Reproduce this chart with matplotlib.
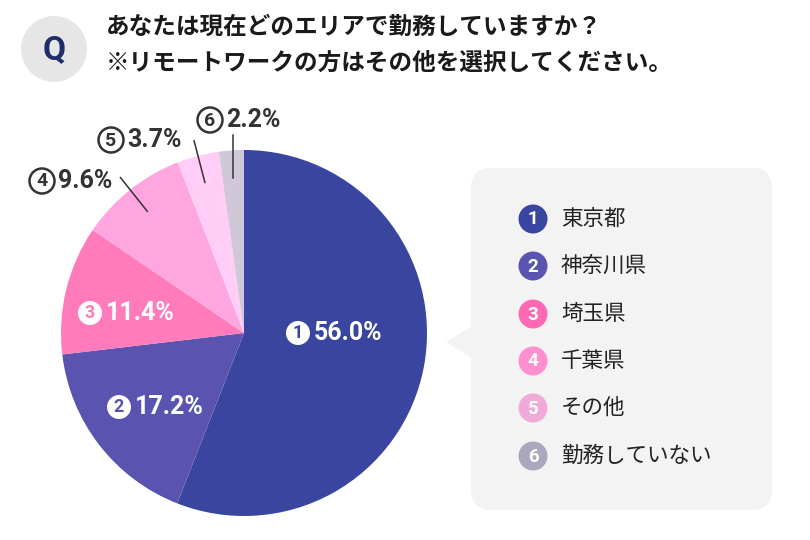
import numpy as np
import matplotlib
matplotlib.use("Agg")
import matplotlib.pyplot as plt
from matplotlib.patches import Circle, FancyBboxPatch, Polygon

plt.rcParams['font.family'] = ['Noto Sans CJK JP', 'DejaVu Sans']

# ---- data ----
categories = ["東京都", "神奈川県", "埼玉県", "千葉県", "その他", "勤務していない"]
values = [56.0, 17.2, 11.4, 9.6, 3.7, 2.2]
numbers = ["1", "2", "3", "4", "5", "6"]
slice_colors = ["#3a45a0", "#5a54b0", "#ff7bbb", "#ffa6e0", "#ffcdf5", "#d0c8d8"]
legend_colors = ["#3a45a0", "#5a54b0", "#ff69b4", "#ff8fcf", "#f0a9d9", "#aba7bd"]
title_lines = ["あなたは現在どのエリアで勤務していますか？",
               "※リモートワークの方はその他を選択してください。"]

W, H = 810, 540
def Y(y):
    return H - y

fig = plt.figure(figsize=(8.1, 5.4), dpi=100)
ax = fig.add_axes([0, 0, 1, 1])

CX, CY, R = 244, 333, 183
wedges, _ = ax.pie(values, colors=slice_colors, startangle=90, counterclock=False,
                   center=(CX, Y(CY)), radius=R, wedgeprops=dict(linewidth=0))
ax.set_xlim(0, W)
ax.set_ylim(0, H)
ax.set_aspect('auto')
ax.axis('off')

num_font = 'Roboto'

# inside labels (slices 1-3)
inside_pos = {0: (298, 333), 1: (119, 407), 2: (90, 313)}
for i, (x, y) in inside_pos.items():
    ax.add_patch(Circle((x, Y(y)), 12, facecolor='white', edgecolor='none', zorder=5))
    ax.text(x, Y(y) - 0.5, numbers[i], color=slice_colors[i], fontsize=13, fontweight='bold',
            family=num_font, ha='center', va='center', zorder=6)
    ax.text(x + 16, Y(y), f"{values[i]:.1f}%", color='white', fontsize=18, fontweight='bold',
            family=num_font, ha='left', va='center', zorder=6)

# outside labels (slices 4-6) with leader lines
outside_pos = {3: (42, 181), 4: (111, 140), 5: (210, 120)}
for i, (x, y) in outside_pos.items():
    w = wedges[i]
    mid = np.deg2rad((w.theta1 + w.theta2) / 2)
    x0 = CX + 0.85 * R * np.cos(mid)
    y0 = Y(CY) + 0.85 * R * np.sin(mid)
    x1 = CX + 1.085 * R * np.cos(mid)
    y1 = Y(CY) + 1.085 * R * np.sin(mid)
    if i == 5:
        x1 = x0
    ax.plot([x0, x1], [y0, y1], color='#333333', lw=1.1, zorder=4)
    ax.add_patch(Circle((x, Y(y)), 12.5, facecolor='white', edgecolor='#333333', lw=1.8, zorder=5))
    ax.text(x, Y(y) - 0.5, numbers[i], color='#333333', fontsize=14, fontweight='bold',
            family=num_font, ha='center', va='center', zorder=6)
    ax.text(x + 16, Y(y), f"{values[i]:.1f}%", color='#333333', fontsize=18, fontweight='bold',
            family=num_font, ha='left', va='center', zorder=6)

# legend box
box = FancyBboxPatch((471, Y(510)), 772 - 471, 510 - 168,
                     boxstyle="round,pad=0,rounding_size=20",
                     facecolor='#f3f3f3', edgecolor='none', zorder=1)
ax.add_patch(box)
ax.add_patch(Polygon([(446, Y(342)), (472, Y(326)), (472, Y(358))],
                     closed=True, facecolor='#f3f3f3', edgecolor='none', zorder=1))
leg_y = [219, 266, 314, 361, 408, 456]
for i, cat in enumerate(categories):
    yy = Y(leg_y[i])
    ax.add_patch(Circle((533, yy), 14.5, facecolor=legend_colors[i], edgecolor='none', zorder=2))
    ax.text(533, yy - 0.5, numbers[i], color='white', fontsize=13.5, fontweight='bold',
            family=num_font, ha='center', va='center', zorder=3)
    ax.text(561, yy, cat, color='#222222', fontsize=15.5, ha='left', va='center', zorder=3)

# title + Q badge
ax.add_patch(Circle((54, Y(49)), 33, facecolor='#e6e6e6', edgecolor='none'))
ax.text(54, Y(50), "Q", color='#1f2d6b', fontsize=24, fontweight='bold', family=num_font,
        ha='center', va='center')
ax.text(106, Y(27), title_lines[0], color='#1a1a1a', fontsize=17, fontweight='bold',
        ha='left', va='center')
ax.text(106, Y(63), title_lines[1], color='#1a1a1a', fontsize=17, fontweight='bold',
        ha='left', va='center')

fig.savefig("out.png", dpi=100, facecolor='white')
